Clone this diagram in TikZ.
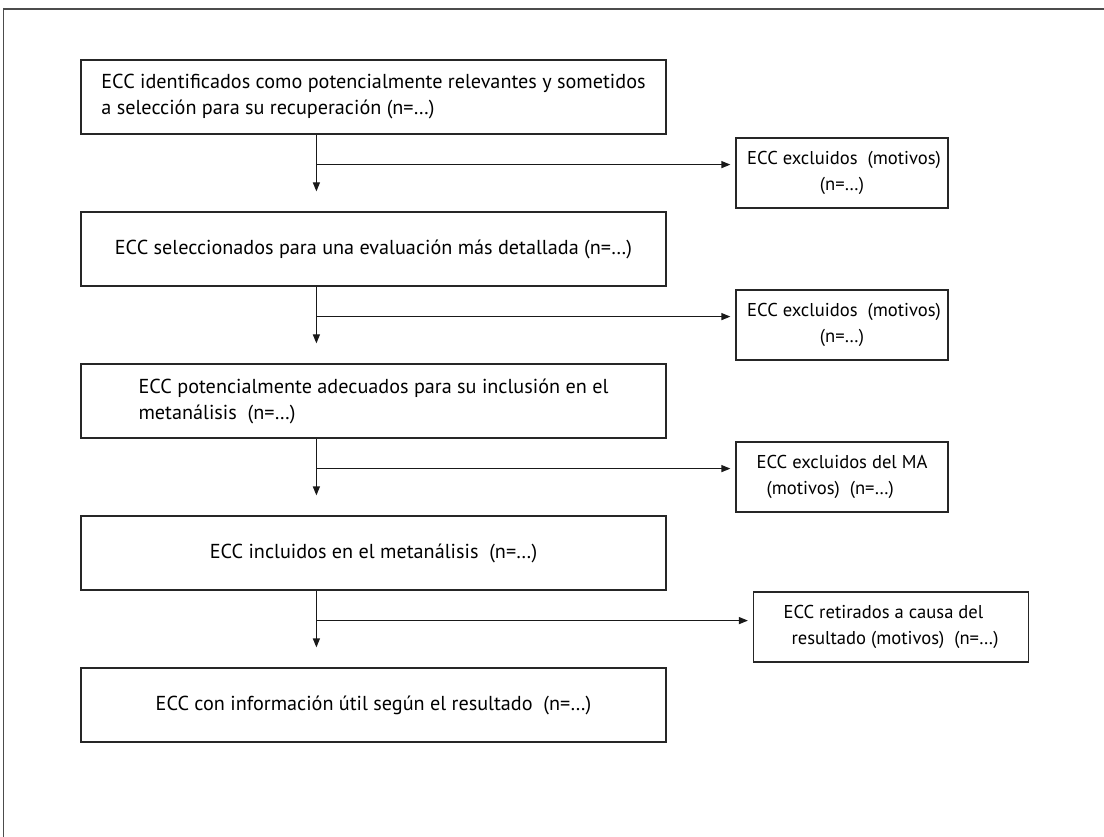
\documentclass[tikz,border=0pt]{standalone}
\usepackage{fontspec}
\setmainfont{PT Sans}
\usetikzlibrary{arrows.meta}
\begin{document}
\begin{tikzpicture}[x=1pt,y=-1pt,
  mainbox/.style={draw=black!85, line width=1.2pt, minimum width=585pt, minimum height=74pt, inner sep=0pt, align=left,
    font=\fontsize{20.2pt}{26pt}\selectfont},
  exbox/.style={draw=black!85, line width=1.2pt, minimum width=212pt, minimum height=70pt, inner sep=1pt,
    font=\fontsize{18.6pt}{26pt}\selectfont},
  arr/.style={line width=1.2pt, draw=black!90, -{Triangle[length=9pt,width=7pt]}},
  frameline/.style={draw=black!70}
]
\useasboundingbox (0,0) rectangle (1104,837);
\fill[white] (0,0) rectangle (1104,837);
\draw[frameline, line width=1.6pt] (3,9) -- (1104,9);
\draw[frameline, line width=1pt] (3,8) -- (3,837);

\node[mainbox] (b1) at (373.5,97) {ECC identificados como potencialmente relevantes y sometidos\\a selección para su recuperación (n=…)};
\node[mainbox, align=center] (b2) at (373.5,249) {ECC seleccionados para una evaluación más detallada (n=…)};
\node[mainbox] (b3) at (373.5,401) {ECC potencialmente adecuados para su inclusión en el\\metanálisis\ \ (n=…)};
\node[mainbox, align=center] (b4) at (373.5,553) {ECC incluidos en el metanálisis\ \ (n=…)};
\node[mainbox, align=center] (b5) at (373.5,705) {ECC con información útil según el resultado\ \ (n=…)};

\node[exbox, align=center] (e1) at (842,173) {\hspace*{4pt}ECC excluidos\ \ (motivos)\\(n=…)};
\node[exbox, align=center] (e2) at (842,325) {\hspace*{4pt}ECC excluidos\ \ (motivos)\\(n=…)};
\node[exbox, align=left] (e3) at (842,477) {ECC excluidos del MA\\\hspace*{10pt}(motivos)\ \ (n=…)};
\node[exbox, minimum width=275pt, align=left] (e4) at (891,627) {ECC retirados a causa del\\\hspace*{8pt}resultado (motivos)\ \ (n=…)};

\foreach \a/\b/\e in {b1/b2/e1, b2/b3/e2, b3/b4/e3, b4/b5/e4} {
  \draw[arr, shorten >=20pt] ([xshift=236pt]\a.south west) -- ([xshift=236pt]\b.north west);
  \coordinate (j\a) at ([xshift=236pt,yshift=-30pt]\a.south west);
  \draw[arr, shorten >=5pt] (j\a) -- (j\a -| \e.west);
}
\end{tikzpicture}
\end{document}
